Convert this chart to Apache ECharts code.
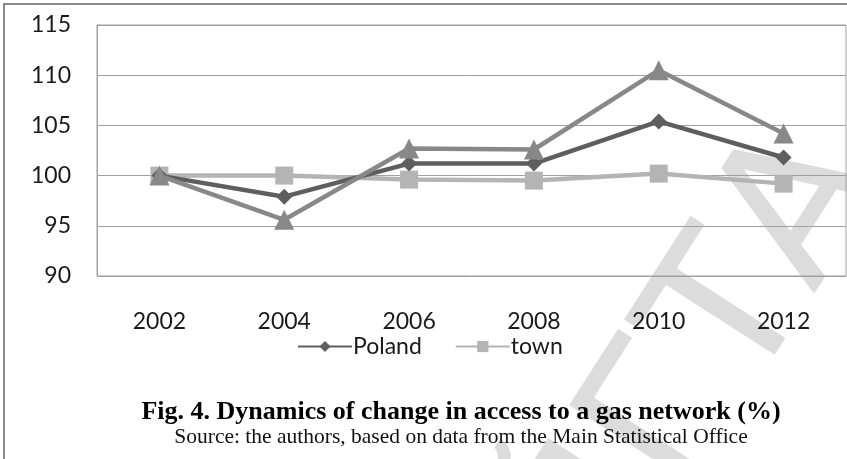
<!DOCTYPE html>
<html>
<head>
<meta charset="utf-8">
<script src="https://cdn.jsdelivr.net/npm/echarts@6/dist/echarts.min.js"></script>
<style>
  html, body { margin: 0; padding: 0; background: #fff; }
  #chart { width: 847px; height: 459px; }
</style>
</head>
<body>
<div id="chart"></div>
<script>
// Years on the category axis
const years = ['2002', '2004', '2006', '2008', '2010', '2012'];
// Index values (2002 = 100)
const poland = [100, 97.9, 101.2, 101.2, 105.4, 101.8];
const town = [100, 100.0, 99.6, 99.5, 100.2, 99.2];
const village = [100, 95.6, 102.7, 102.6, 110.5, 104.2];
// Value-axis ticks
const yMin = 90, yMax = 115, yStep = 5;

const titleText = 'Fig. 4. Dynamics of change in access to a gas network (%)';
const sourceText = 'Source: the authors, based on data from the Main Statistical Office';

const chart = echarts.init(document.getElementById('chart'), null, { renderer: 'canvas' });

const sansFont = 'Lato, "Open Sans", sans-serif';

chart.setOption({
  backgroundColor: '#ffffff',
  animation: false,
  grid: {
    left: 97, right: 1, top: 25, bottom: 183,
    show: true, borderColor: '#a0a0a0', borderWidth: 1
  },
  xAxis: {
    type: 'category',
    data: years,
    boundaryGap: true,
    axisLine: { show: false },
    axisTick: { show: false },
    axisLabel: { color: '#1a1a1a', fontSize: 23, fontFamily: sansFont, margin: 34 }
  },
  yAxis: {
    type: 'value',
    min: yMin, max: yMax, interval: yStep,
    axisLine: { show: true, lineStyle: { color: '#a0a0a0' } },
    axisTick: { show: false },
    splitLine: { lineStyle: { color: '#a0a0a0', width: 1 } },
    axisLabel: { color: '#1a1a1a', fontSize: 23, fontFamily: sansFont, margin: 26 }
  },
  legend: {
    data: ['Poland', 'town'],
    left: 292, top: 330,
    itemWidth: 54, itemHeight: 14, itemGap: 33,
    textStyle: { fontSize: 23, fontFamily: sansFont, color: '#1a1a1a', padding: [0, 0, 0, -4] }
  },
  graphic: [
    {
      type: 'text', z: -10, silent: true,
      x: 700, y: 375, rotation: 1.0,
      style: { text: 'ЙГТА', font: '200px "DejaVu Sans"', fill: '#dcdcdc', align: 'center', verticalAlign: 'middle' }
    },
    {
      type: 'rect', z: 100, silent: true,
      shape: { x: 4, y: 4, width: 900, height: 500 },
      style: { fill: 'none', stroke: '#8a8a8a', lineWidth: 2 }
    },
    {
      type: 'text', z: 100,
      x: 461, y: 412,
      style: { text: titleText, font: 'bold 26px "Liberation Serif"', fill: '#000', align: 'center', verticalAlign: 'middle' }
    },
    {
      type: 'text', z: 100,
      x: 461, y: 437,
      style: { text: sourceText, font: '21.5px "Liberation Serif"', fill: '#111', align: 'center', verticalAlign: 'middle' }
    }
  ],
  series: [
    {
      name: 'Poland', type: 'line', data: poland, z: 4,
      symbol: 'diamond', symbolSize: 16,
      lineStyle: { color: '#5e5e5e', width: 4.5 },
      itemStyle: { color: '#5e5e5e' }
    },
    {
      name: 'town', type: 'line', data: town, z: 3,
      symbol: 'rect', symbolSize: 18,
      lineStyle: { color: '#b4b4b4', width: 4.5 },
      itemStyle: { color: '#b4b4b4' }
    },
    {
      name: 'village', type: 'line', data: village, z: 5,
      symbol: 'triangle', symbolSize: 20,
      lineStyle: { color: '#888888', width: 4.5 },
      itemStyle: { color: '#888888' }
    }
  ]
});
</script>
</body>
</html>
